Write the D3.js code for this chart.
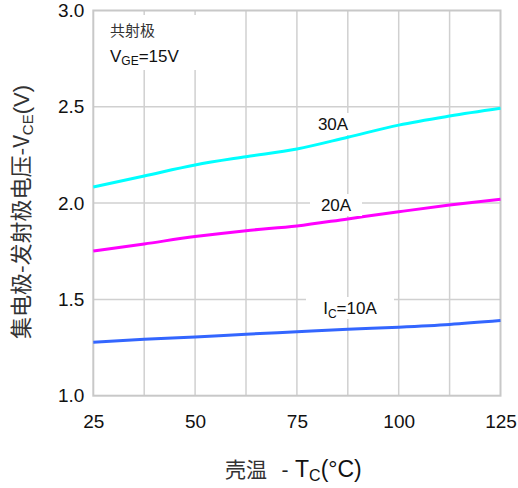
<!DOCTYPE html>
<html><head><meta charset="utf-8">
<script src="https://cdn.jsdelivr.net/npm/d3@7"></script>
<style>body{margin:0;background:#fff}svg{display:block}</style>
</head><body>
<svg id="c" width="518" height="488"></svg>
<script>
const temps = [25, 37.5, 50, 62.5, 75, 87.5, 100, 112.5, 125];
const v30A = [2.084, 2.141, 2.198, 2.241, 2.281, 2.342, 2.405, 2.452, 2.492];
const v20A = [1.751, 1.788, 1.826, 1.857, 1.881, 1.918, 1.955, 1.99, 2.02];
const v10A = [1.277, 1.293, 1.305, 1.319, 1.332, 1.345, 1.356, 1.37, 1.39];
const xTicks = [25, 50, 75, 100, 125];
const xGrid = [25, 37.5, 50, 62.5, 75, 87.5, 100, 112.5, 125];
const yTicks = [1.0, 1.5, 2.0, 2.5, 3.0];

const svg = d3.select("#c");
const L = 93.3, R = 500.5, T = 10.5, B = 395.7;
const x = d3.scaleLinear().domain([25, 125]).range([L, R]);
const y = d3.scaleLinear().domain([1, 3]).range([B, T]);
const font = "Liberation Sans, Arial, sans-serif";
const cjk = "Noto Sans CJK SC, sans-serif";

// grid
svg.append("g").selectAll("line").data(xGrid.slice(1, -1)).join("line")
  .attr("x1", d => x(d)).attr("x2", d => x(d)).attr("y1", T).attr("y2", B)
  .attr("stroke", "#d0d0d0").attr("stroke-width", 1.5);
svg.append("g").selectAll("line").data(yTicks.slice(1, -1)).join("line")
  .attr("y1", d => y(d)).attr("y2", d => y(d)).attr("x1", L).attr("x2", R)
  .attr("stroke", "#d0d0d0").attr("stroke-width", 1.5);
svg.append("rect").attr("x", L).attr("y", T).attr("width", R - L).attr("height", B - T)
  .attr("fill", "none").attr("stroke", "#c8c8c8").attr("stroke-width", 2);

// axes labels via d3 axes
const ax = svg.append("g").attr("transform", `translate(0,${B})`)
  .call(d3.axisBottom(x).tickValues(xTicks).tickSize(0).tickPadding(19).tickFormat(d3.format("d")));
ax.select(".domain").remove();
ax.selectAll("text").attr("font-family", font).attr("font-size", 19).attr("fill", "#111");
const ay = svg.append("g").attr("transform", `translate(${L},0)`)
  .call(d3.axisLeft(y).tickValues(yTicks).tickSize(0).tickPadding(9).tickFormat(d3.format(".1f")));
ay.select(".domain").remove();
ay.selectAll("text").attr("font-family", font).attr("font-size", 19).attr("fill", "#111");

// curves
const line = d3.line().x((d, i) => x(temps[i])).y(d => y(d)).curve(d3.curveMonotoneX);
[[v30A, "#00ffff"], [v20A, "#ff00ff"], [v10A, "#3366ff"]].forEach(([vals, c]) => {
  svg.append("path").datum(vals).attr("d", line).attr("fill", "none")
    .attr("stroke", c).attr("stroke-width", 3);
});

// title box
svg.append("rect").attr("x", 104).attr("y", 15).attr("width", 92).attr("height", 55).attr("fill", "#fff");
svg.append("text").attr("x", 110).attr("y", 36).attr("font-family", cjk).attr("font-size", 15).attr("fill", "#333").text("共射极");
const t2 = svg.append("text").attr("x", 110).attr("y", 62).attr("font-family", font).attr("font-size", 17).attr("fill", "#111");
t2.append("tspan").text("V");
t2.append("tspan").attr("font-size", 12).attr("dy", 3).text("GE");
t2.append("tspan").attr("dy", -3).text("=15V");

// curve labels
function lab(cx, cy, w, parts) {
  svg.append("rect").attr("x", cx - w / 2).attr("y", cy - 11).attr("width", w).attr("height", 22).attr("fill", "#fff");
  const t = svg.append("text").attr("x", cx).attr("y", cy + 6).attr("text-anchor", "middle")
    .attr("font-family", font).attr("font-size", 17).attr("fill", "#111");
  parts.forEach(p => {
    const s = t.append("tspan").text(p[0]);
    if (p[1]) s.attr("font-size", 12).attr("dy", 4);
    if (p[2]) s.attr("dy", -4);
  });
}
lab(333, 124, 36, [["30A"]]);
lab(336, 205, 52, [["20A"]]);
lab(350, 308, 88, [["I"], ["C", true], ["=10A", false, true]]);

// axis titles
svg.append("text").attr("x", 225).attr("y", 477).attr("font-family", cjk).attr("font-size", 21)
  .attr("fill", "#333").text("壳温");
svg.append("text").attr("x", 285).attr("y", 477).attr("text-anchor", "middle").attr("font-family", font)
  .attr("font-size", 21).attr("fill", "#222").text("-");
const xt = svg.append("text").attr("x", 295).attr("y", 477).attr("font-family", font)
  .attr("font-size", 23).attr("fill", "#111");
xt.append("tspan").text("T");
xt.append("tspan").attr("font-size", 16).attr("dy", 4).text("C");
xt.append("tspan").attr("dy", -4).text("(°C)");

const yt = svg.append("text").attr("transform", "translate(29,212) rotate(-90)").attr("text-anchor", "middle")
  .attr("font-size", 22).attr("fill", "#333");
yt.append("tspan").attr("font-family", cjk).text("集电极-发射极电压-V");
yt.append("tspan").attr("font-family", font).attr("font-size", 15).attr("dy", 4).text("CE");
yt.append("tspan").attr("font-family", font).attr("dy", -4).text("(V)");
</script>
</body></html>
